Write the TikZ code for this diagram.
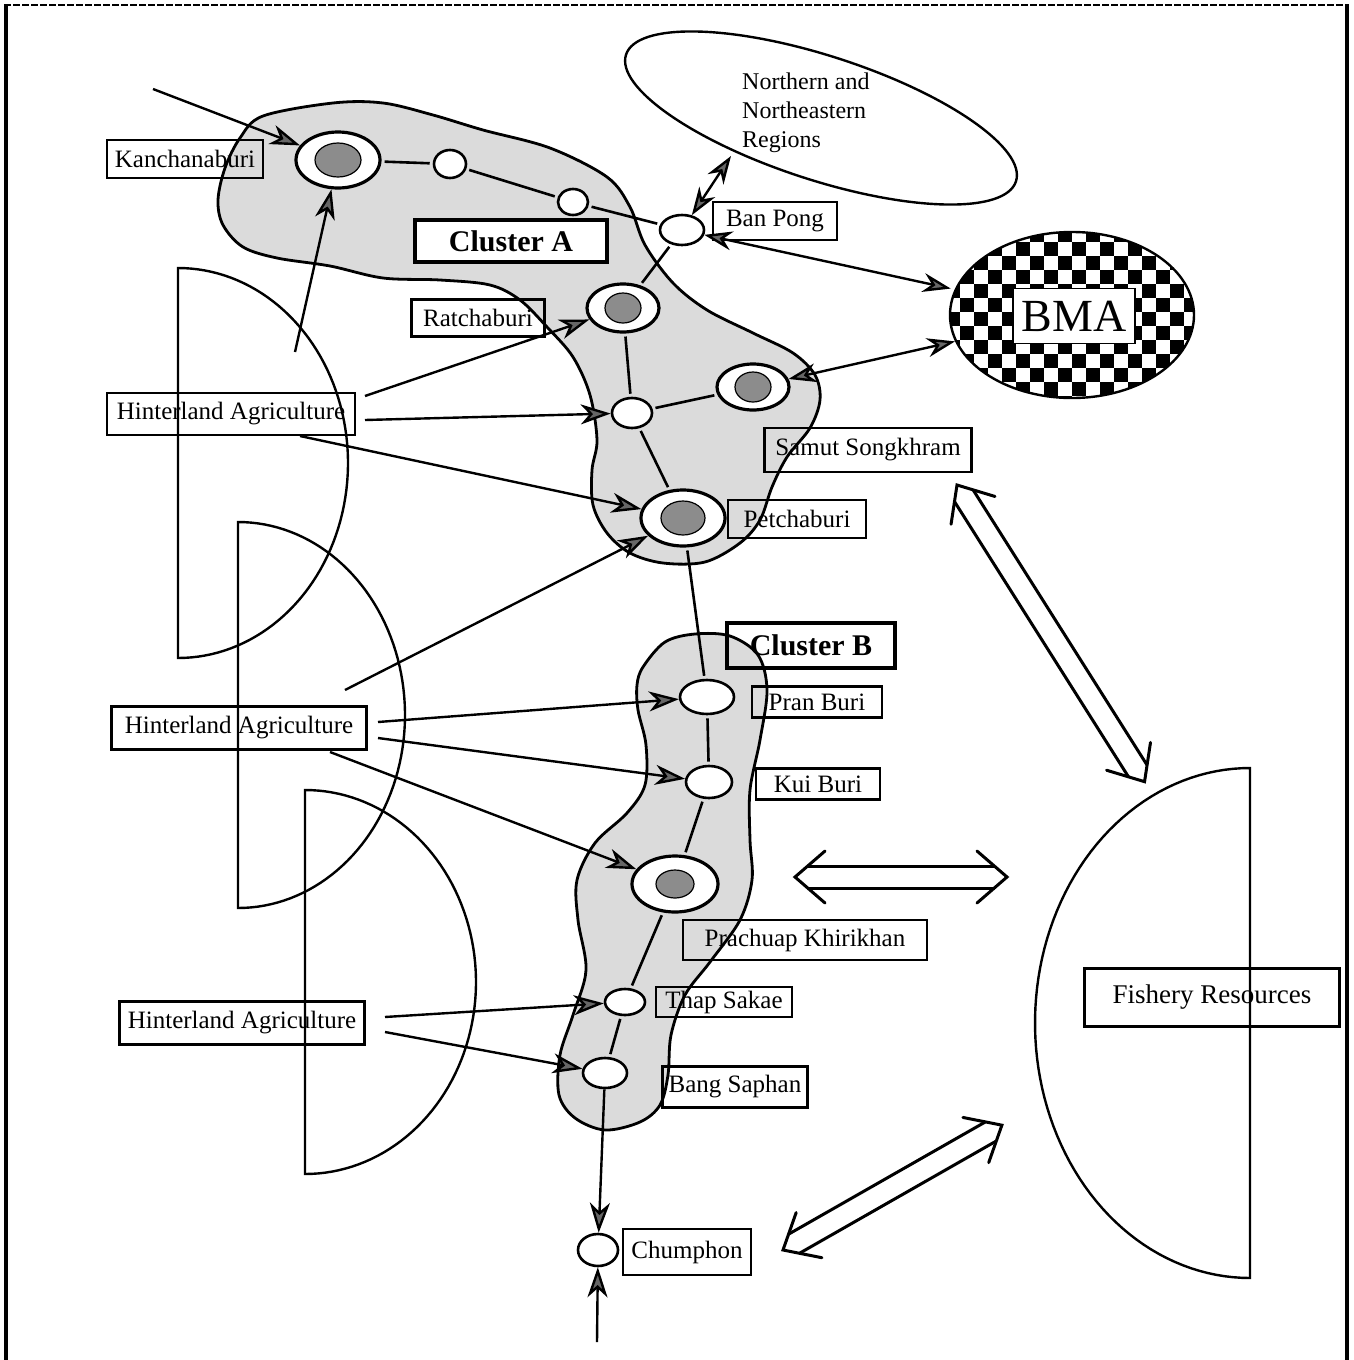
\documentclass[tikz,border=0pt]{standalone}
\usepackage{fontspec}
\setmainfont{Liberation Serif}
\usetikzlibrary{shapes.geometric,arrows.meta,calc}
\begin{document}
\begin{tikzpicture}[x=1pt,y=-1pt,line width=2.4pt,
  blob/.style={fill=black!14, draw, line width=2.8pt},
  ring/.style={draw, ellipse, fill=white, line width=3.2pt, inner sep=0pt},
  core/.style={draw, ellipse, fill=black!45, line width=1.2pt, inner sep=0pt},
  dot/.style={draw, ellipse, fill=white, line width=2.6pt, inner sep=0pt},
  lbl/.style={draw, line width=2.2pt, inner sep=0pt, font=\fontsize{25}{28}\selectfont},
  clus/.style={draw, line width=4pt, inner sep=0pt, font=\bfseries\fontsize{30}{34}\selectfont},
  link/.style={line width=2.6pt, shorten <=3pt, shorten >=3pt},
  half/.style={line width=2.4pt},
  arr/.style={line width=2.4pt, -{Stealth[length=30pt,width=20pt,inset=9pt,fill=black!60]}},
  dblarr/.style={line width=2.4pt, {Stealth[length=28pt,width=19pt,inset=9pt,fill=black!60]}-{Stealth[length=28pt,width=19pt,inset=9pt,fill=black!60]}},
  hollow/.style={line width=3pt, line cap=round, line join=miter},
  pics/hollowdbl/.style={code={
    \draw[hollow] (30,-26) -- (0,0) -- (30,26);
    \draw[hollow] ({#1-30},-26) -- (#1,0) -- ({#1-30},26);
    \draw[hollow] (13,-11) -- ({#1-13},-11);
    \draw[hollow] (13,11) -- ({#1-13},11);
  }}
]
\useasboundingbox (0,0) rectangle (1353,1360);
% frame
\draw[line width=3.5pt] (6,4) -- (6,1360);
\draw[line width=3.5pt] (1347,4) -- (1347,1360);
\draw[line width=2.4pt, dash pattern=on 7pt off 2pt] (4,5) -- (1349,5);

% cluster blobs
\draw[blob] plot[smooth cycle, tension=0.55] coordinates {
 (263,116) (333,103) (383,103) (433,115) (483,130) (550,148) (607,177) (630,207)
 (645,245) (673,283) (707,310) (753,333) (793,353) (815,375) (820,400) (810,428)
 (787,457) (772,487) (760,520) (740,543) (705,562) (663,563) (630,553) (607,533)
 (593,505) (592,470) (597,440) (590,395) (573,357) (547,327) (520,300) (490,285)
 (440,280) (383,278) (330,266) (277,258) (243,247) (223,225) (218,200) (225,168) (240,138)};
\draw[blob] plot[smooth cycle, tension=0.55] coordinates {
 (643,667) (665,642) (695,634) (730,636) (758,655) (767,690) (760,740) (750,790)
 (750,840) (752,880) (740,920) (710,962) (685,995) (671,1035) (668,1075) (660,1105)
 (640,1122) (605,1130) (575,1118) (559,1095) (560,1055) (573,1015) (586,970) (578,920)
 (577,880) (595,843) (627,813) (645,785) (646,745) (638,710) (637,685)};

% hinterland and fishery half discs
\draw[half] plot[domain=-90:90, samples=80] ({178+170*cos(\x)},{463+195*sin(\x)}) -- cycle;
\draw[half] plot[domain=-90:90, samples=80] ({238+167*cos(\x)},{715+193*sin(\x)}) -- cycle;
\draw[half] plot[domain=-90:90, samples=80] ({305+171*cos(\x)},{982+192*sin(\x)}) -- cycle;
\draw[half] plot[domain=90:270, samples=80] ({1250+215*cos(\x)},{1023+255*sin(\x)}) -- cycle;

% northern ellipse
\node[draw, ellipse, minimum width=410pt, minimum height=124pt, rotate=-18, line width=2.4pt] (nne) at (821,118) {};
\node[anchor=north west, align=left, inner sep=0pt, font=\fontsize{24}{29}\selectfont] (nnetext) at (741,72) {Northern and\\Northeastern\\Regions};

% BMA
\begin{scope}
\clip (1072,315) ellipse [x radius=122pt, y radius=83pt];
\foreach \i in {0,...,18}{
  \foreach \j in {0,...,12}{
    \pgfmathtruncatemacro\k{mod(\i+\j,2)}
    \ifnum\k=0 \fill (946+14*\i,228+14*\j) rectangle ++(14,14); \fi
  }}
\end{scope}
\node[draw, ellipse, minimum width=244pt, minimum height=166pt, line width=2.4pt] (bma) at (1072,315) {};
\node[draw, fill=white, line width=1.8pt, minimum width=122pt, minimum height=55pt, inner sep=0pt, font=\fontsize{46}{50}\selectfont] (bmatext) at (1074,316) {BMA};

% settlements
\node[ring, minimum width=84pt, minimum height=56pt] (kan) at (338,160) {};
\node[core, minimum width=46pt, minimum height=34pt] (kanc) at (kan) {};
\node[dot, minimum width=32pt, minimum height=28pt] (s1) at (450,164) {};
\node[dot, minimum width=30pt, minimum height=26pt] (s2) at (573,202) {};
\node[dot, minimum width=44pt, minimum height=30pt] (banpong) at (682,230) {};
\node[ring, minimum width=72pt, minimum height=48pt] (rat) at (623,308) {};
\node[core, minimum width=36pt, minimum height=30pt] (ratc) at (rat) {};
\node[dot, minimum width=40pt, minimum height=30pt] (s3) at (632,413) {};
\node[ring, minimum width=72pt, minimum height=46pt] (samut) at (753,387) {};
\node[core, minimum width=36pt, minimum height=30pt] (samutc) at (samut) {};
\node[ring, minimum width=84pt, minimum height=56pt] (pet) at (683,518) {};
\node[core, minimum width=44pt, minimum height=34pt] (petc) at (pet) {};
\node[dot, minimum width=54pt, minimum height=34pt] (pran) at (707,697) {};
\node[dot, minimum width=46pt, minimum height=32pt] (kui) at (709,782) {};
\node[ring, minimum width=86pt, minimum height=56pt] (prach) at (675,884) {};
\node[core, minimum width=38pt, minimum height=28pt] (prachc) at (prach) {};
\node[dot, minimum width=40pt, minimum height=26pt] (thap) at (625,1002) {};
\node[dot, minimum width=44pt, minimum height=30pt] (bang) at (605,1073) {};
\node[dot, minimum width=40pt, minimum height=32pt] (chum) at (598,1250) {};

% links
\draw[link] (kan) -- (s1);
\draw[link] (s1) -- (s2);
\draw[link] (s2) -- (banpong);
\draw[link] (banpong) -- (rat);
\draw[link] (rat) -- (s3);
\draw[link] (s3) -- (samut);
\draw[link] (s3) -- (pet);
\draw[link] (pet) -- (pran);
\draw[link] (pran) -- (kui);
\draw[link] (kui) -- (prach);
\draw[link] (prach) -- (thap);
\draw[link] (thap) -- (bang);

% labels
\node[lbl, minimum width=156pt, minimum height=38pt] (lkan) at (185,159) {Kanchanaburi};
\node[lbl, minimum width=124pt, minimum height=38pt] (lban) at (775,221) {Ban Pong};
\node[clus, fill=white, minimum width=192pt, minimum height=42pt] (lca) at (511,241) {Cluster A};
\node[lbl, minimum width=133pt, minimum height=37pt] (lrat) at (478,318) {Ratchaburi};
\node[lbl, minimum width=207pt, minimum height=44pt] (lsam) at (868,450) {Samut Songkhram};
\node[lbl, minimum width=138pt, minimum height=38pt] (lpet) at (797,519) {Petchaburi};
\node[lbl, minimum width=248pt, minimum height=42pt] (lh1) at (231,414) {Hinterland Agriculture};
\node[lbl, minimum width=255pt, minimum height=43pt] (lh2) at (239,728) {Hinterland Agriculture};
\node[lbl, minimum width=245pt, minimum height=43pt] (lh3) at (242,1023) {Hinterland Agriculture};
\node[clus, minimum width=168pt, minimum height=45pt] (lcb) at (811,645) {Cluster B};
\node[lbl, minimum width=130pt, minimum height=31pt] (lpran) at (817,702) {Pran Buri};
\node[lbl, minimum width=124pt, minimum height=31pt] (lkui) at (818,784) {Kui Buri};
\node[lbl, minimum width=244pt, minimum height=40pt] (lprach) at (805,940) {Prachuap Khirikhan};
\node[lbl, minimum width=136pt, minimum height=30pt] (lthap) at (724,1002) {Thap Sakae};
\node[lbl, minimum width=145pt, minimum height=41pt] (lbang) at (735,1087) {Bang Saphan};
\node[lbl, minimum width=128pt, minimum height=46pt] (lchum) at (687,1252) {Chumphon};
\node[lbl, line width=3pt, minimum width=255pt, minimum height=58pt, font=\fontsize{27}{30}\selectfont] (lfish) at (1212,997) {Fishery Resources};

% arrow tails
\coordinate (kanIn) at (153,89);
\coordinate (h1a) at (295,352);
\coordinate (h1b) at (365,396);
\coordinate (h1c) at (365,420);
\coordinate (h1d) at (300,436);
\coordinate (h2a) at (345,690);
\coordinate (h2b) at (378,722);
\coordinate (h2c) at (378,738);
\coordinate (h2d) at (330,752);
\coordinate (h3a) at (385,1017);
\coordinate (h3b) at (385,1032);
\coordinate (chumIn) at (597,1342);
\coordinate (nneS) at (731,156);

\draw[arr] (kanIn) -- (kan);
\draw[arr] (h1a) -- (kan);
\draw[arr] (h1b) -- (rat);
\draw[arr] (h1c) -- (s3);
\draw[arr] (h1d) -- (pet);
\draw[arr] (h2a) -- (pet);
\draw[arr] (h2b) -- (pran);
\draw[arr] (h2c) -- (kui);
\draw[arr] (h2d) -- (prach);
\draw[arr] (h3a) -- (thap);
\draw[arr] (h3b) -- (bang);
\draw[arr] (bang) -- (chum);
\draw[arr] (chumIn) -- (chum);
\draw[dblarr] (banpong) -- (nneS);
\draw[dblarr, shorten >=4pt] (banpong) -- (bma);
\draw[dblarr] (samut) -- (bma);

% hollow double arrows
\coordinate (dgA) at (957,485);
\coordinate (hzA) at (795,877);
\coordinate (btA) at (783,1250);
\pic[rotate=-57.7] at (dgA) {hollowdbl=351};
\pic at (hzA) {hollowdbl=212};
\pic[rotate=29.7] at (btA) {hollowdbl=252};
\end{tikzpicture}
\end{document}
